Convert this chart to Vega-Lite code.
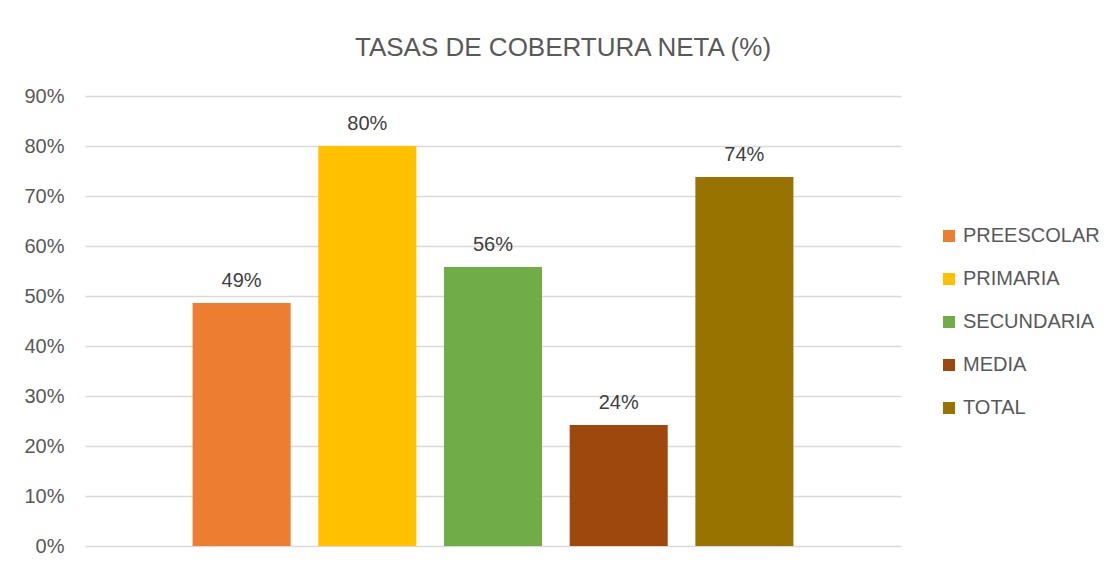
{
  "$schema": "https://vega.github.io/schema/vega-lite/v6.json",
  "autosize": {"type": "none"},
  "padding": {"left": 85, "top": 96, "right": 206, "bottom": 26},
  "width": 816,
  "height": 450,
  "background": "white",
  "config": {"view": {"stroke": null}},
  "title": {
    "text": "TASAS DE COBERTURA NETA (%)",
    "font": "Liberation Sans, Arial, sans-serif",
    "fontSize": 26,
    "fontWeight": "normal",
    "color": "#595959",
    "anchor": "middle",
    "dx": 70,
    "baseline": "alphabetic",
    "offset": 4
  },
  "data": {
    "values": [
      {"nivel": "PREESCOLAR", "valor": 0.486},
      {"nivel": "PRIMARIA", "valor": 0.80},
      {"nivel": "SECUNDARIA", "valor": 0.558},
      {"nivel": "MEDIA", "valor": 0.242},
      {"nivel": "TOTAL", "valor": 0.738}
    ]
  },
  "encoding": {
    "x": {
      "field": "nivel",
      "type": "nominal",
      "sort": null,
      "scale": {"paddingInner": 0.22, "paddingOuter": 0.856},
      "axis": null
    },
    "y": {
      "field": "valor",
      "type": "quantitative",
      "scale": {"domain": [0, 0.9], "nice": false},
      "axis": {
        "values": [0, 0.1, 0.2, 0.3, 0.4, 0.5, 0.6, 0.7, 0.8, 0.9],
        "format": ".0%",
        "title": null,
        "domain": false,
        "ticks": false,
        "labelPadding": 21,
        "labelFont": "Liberation Sans, Arial, sans-serif",
        "labelFontSize": 20,
        "labelColor": "#595959",
        "gridColor": "#d9d9d9",
        "gridWidth": 1.5
      }
    }
  },
  "layer": [
    {
      "mark": {"type": "bar"},
      "encoding": {
        "color": {
          "field": "nivel",
          "type": "nominal",
          "sort": null,
          "scale": {
            "domain": ["PREESCOLAR", "PRIMARIA", "SECUNDARIA", "MEDIA", "TOTAL"],
            "range": ["#ED7D31", "#FFC000", "#70AD47", "#9E480E", "#997300"]
          },
          "legend": {
            "title": null,
            "orient": "none",
            "legendX": 854,
            "legendY": 130,
            "padding": 0,
            "symbolType": "square",
            "symbolSize": 144,
            "symbolStrokeWidth": 0,
            "labelFont": "Liberation Sans, Arial, sans-serif",
            "labelFontSize": 20,
            "labelColor": "#595959",
            "labelOffset": 4,
            "rowPadding": 23,
            "labelLimit": 300
          }
        }
      }
    },
    {
      "mark": {
        "type": "text",
        "baseline": "alphabetic",
        "dy": -16,
        "font": "Liberation Sans, Arial, sans-serif",
        "fontSize": 20,
        "color": "#404040"
      },
      "encoding": {
        "text": {"field": "valor", "type": "quantitative", "format": ".0%"}
      }
    }
  ]
}
